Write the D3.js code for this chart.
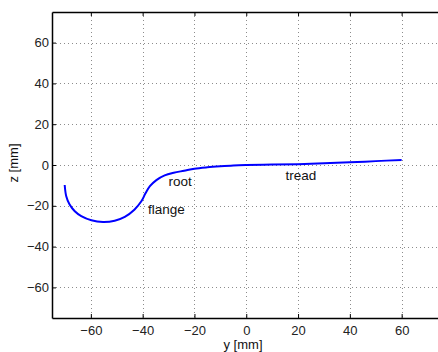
<!DOCTYPE html>
<html><head><meta charset="utf-8">
<script src="https://cdn.jsdelivr.net/npm/d3@7"></script>
<style>
body{margin:0;background:#fff;}
svg{display:block;font-family:"Liberation Sans",Arial,sans-serif;}
</style></head>
<body>
<svg id="c" width="438" height="352"></svg>
<script>
// profile data (y [mm], z [mm])
const profileY = [-70.1,-69.5,-68.2,-66.2,-63.7,-59.8,-55.3,-50.8,-46.9,-43.2,-40.5,-38.9,-37.2,-34.7,-31.5,-28,-24,-20,-15,-10,-5,0,10,20,30,40,50,60];
const profileZ = [-9.8,-15.3,-19.4,-22.7,-25.1,-27.1,-27.9,-27.3,-25.4,-21.9,-17.8,-13.9,-10.4,-7.4,-5.1,-3.8,-2.8,-1.8,-1.1,-0.6,-0.2,0,0.2,0.4,0.8,1.3,1.9,2.5];
const xTicks = [-60,-40,-20,0,20,40,60];
const yTicks = [-60,-40,-20,0,20,40,60];
const labels = [
  {text:"root", y:-25.5, z:-8.7},
  {text:"flange", y:-30.8, z:-22.1},
  {text:"tread", y:21.1, z:-5.4}
];
const xDomain = [-75,75], yDomain = [-75,75];

const svg = d3.select("#c");
const L = 52, T = 12, R = 440.5, B = 318;
const x = d3.scaleLinear().domain(xDomain).range([L,R]);
const y = d3.scaleLinear().domain(yDomain).range([B,T]);

// grid
const g = svg.append("g");
g.selectAll(".gx").data(xTicks).join("line")
  .attr("x1",d=>Math.round(x(d))+0.5).attr("x2",d=>Math.round(x(d))+0.5)
  .attr("y1",T).attr("y2",B)
  .attr("stroke","#8c8c8c").attr("stroke-width",1).attr("stroke-dasharray","1,3");
g.selectAll(".gy").data(yTicks).join("line")
  .attr("y1",d=>Math.round(y(d))+0.5).attr("y2",d=>Math.round(y(d))+0.5)
  .attr("x1",L).attr("x2",R)
  .attr("stroke","#8c8c8c").attr("stroke-width",1).attr("stroke-dasharray","1,3");

// axes (inside ticks)
const fs = 13;
const fmt = d=>d<0?"\u2212"+Math.abs(d):d;
const xb = svg.append("g").attr("transform",`translate(0,${B})`)
  .call(d3.axisBottom(x).tickValues(xTicks).tickSizeInner(-4).tickSizeOuter(0).tickPadding(8).tickFormat(fmt));
const xt = svg.append("g").attr("transform",`translate(0,${T})`)
  .call(d3.axisTop(x).tickValues(xTicks).tickSizeInner(-4).tickSizeOuter(0).tickFormat(""));
const yl = svg.append("g").attr("transform",`translate(${L},0)`)
  .call(d3.axisLeft(y).tickValues(yTicks).tickSizeInner(-4).tickSizeOuter(0).tickPadding(3).tickFormat(fmt));
[xb,xt,yl].forEach(a=>{
  a.select(".domain").attr("stroke","#000").attr("stroke-width",1.5);
  a.selectAll(".tick line").attr("stroke","#000");
  a.selectAll("text").attr("font-size",fs).attr("fill","#222").attr("font-family","Liberation Sans, Arial, sans-serif");
});

// curve
const pts = profileY.map((v,i)=>[v,profileZ[i]]);
svg.append("path").datum(pts)
  .attr("d", d3.line().x(d=>x(d[0])).y(d=>y(d[1])).curve(d3.curveCatmullRom.alpha(0.5)))
  .attr("fill","none").attr("stroke","#0000ff").attr("stroke-width",2);

// annotations
svg.selectAll(".lab").data(labels).join("text")
  .attr("x",d=>x(d.y)).attr("y",d=>y(d.z))
  .attr("font-size",13.5).attr("fill","#111").attr("text-anchor","middle").attr("dominant-baseline","middle")
  .text(d=>d.text);

// axis labels
svg.append("text").attr("x",243).attr("y",349).attr("text-anchor","middle")
  .attr("font-size",fs).attr("fill","#111").text("y [mm]");
svg.append("text").attr("transform","translate(15,163) rotate(-90)").attr("text-anchor","middle").attr("dominant-baseline","middle")
  .attr("font-size",fs).attr("fill","#111").text("z [mm]");
</script>
</body></html>
